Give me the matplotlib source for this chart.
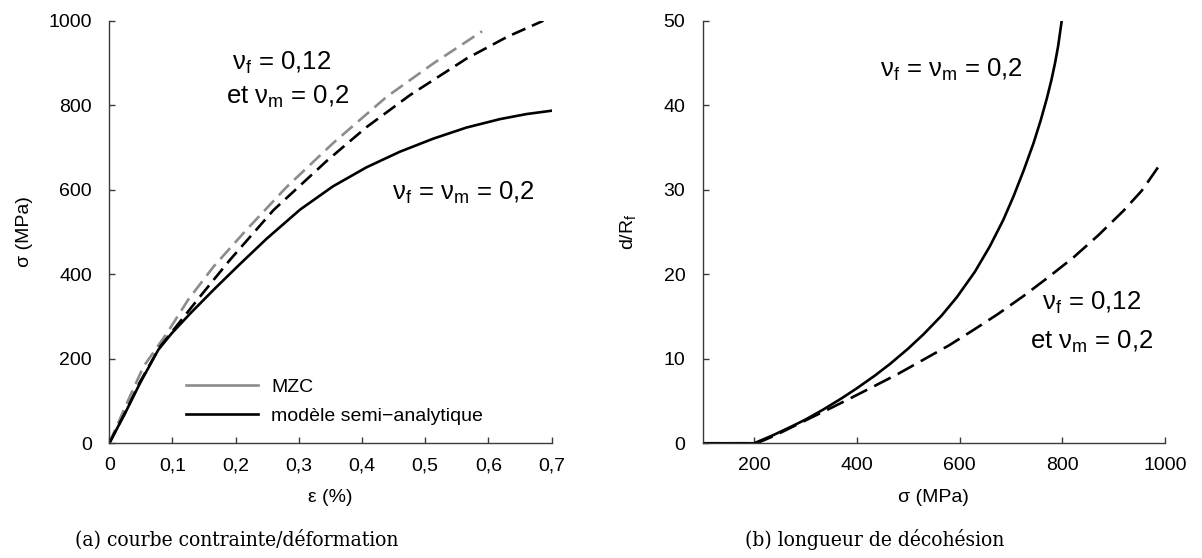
import matplotlib
matplotlib.use("Agg")
import matplotlib.pyplot as plt
from matplotlib.lines import Line2D

# ---- data ----
# (a) stress / strain
eps_solid = [0, 0.025, 0.0486, 0.0775, 0.0987, 0.130, 0.167, 0.204, 0.249, 0.302, 0.354, 0.407, 0.460, 0.513, 0.565, 0.618, 0.660, 0.700]
sig_solid = [0, 71, 142, 221, 260, 310, 366, 420, 484, 553, 608, 653, 690, 721, 747, 767, 779, 787]

eps_dash = [0, 0.025, 0.0486, 0.080, 0.110, 0.143, 0.191, 0.260, 0.344, 0.407, 0.476, 0.565, 0.630, 0.687]
sig_dash = [0, 72, 145, 228, 284, 346, 434, 552, 668, 748, 824, 910, 962, 1000]

eps_mzc = [0, 0.027, 0.054, 0.091, 0.125, 0.165, 0.217, 0.281, 0.354, 0.439, 0.513, 0.590]
sig_mzc = [0, 92, 181, 260, 340, 418, 505, 607, 710, 820, 899, 975]

# (b) debonding length
s_solid = [100, 200, 235, 270, 300, 335, 370, 400, 435, 465, 500, 530, 565, 595, 630,
           659, 685, 705, 725, 744, 758, 770, 779, 786, 792, 799]
d_solid = [0, 0, 0.9, 1.9, 2.8, 4.0, 5.3, 6.5, 8.0, 9.4, 11.2, 12.9, 15.1, 17.3, 20.3,
           23.3, 26.4, 29.2, 32.3, 35.5, 38.2, 40.8, 43.0, 45.0, 47.0, 50]

s_dash = [100, 205, 240, 270, 310, 354, 390, 432, 480, 530, 580, 627, 675, 724, 772,
          822, 870, 919, 955, 987]
d_dash = [0, 0, 0.9, 1.8, 3.0, 4.3, 5.4, 6.7, 8.2, 9.9, 11.6, 13.4, 15.3, 17.4, 19.6,
          22.0, 24.6, 27.5, 29.9, 32.7]

xticks_a = [0, 0.1, 0.2, 0.3, 0.4, 0.5, 0.6, 0.7]
xticklabels_a = ['0', '0,1', '0,2', '0,3', '0,4', '0,5', '0,6', '0,7']
yticks_a = [0, 200, 400, 600, 800, 1000]
xticks_b = [200, 400, 600, 800, 1000]
yticks_b = [0, 10, 20, 30, 40, 50]

plt.rcParams['font.family'] = ['Liberation Sans', 'DejaVu Sans']
plt.rcParams['mathtext.fontset'] = 'custom'
plt.rcParams['mathtext.rm'] = 'Liberation Sans'

fig = plt.figure(figsize=(12.02, 5.58), dpi=100)
ax1 = fig.add_axes([0.0909, 0.2056, 0.368, 0.7573])
ax2 = fig.add_axes([0.5846, 0.2056, 0.3846, 0.7573])

spine_c = '#3a3a3a'
lfs = 14
for ax in (ax1, ax2):
    for s in ('top', 'right'):
        ax.spines[s].set_visible(False)
    for s in ('left', 'bottom'):
        ax.spines[s].set_color(spine_c)
        ax.spines[s].set_linewidth(1.0)
    ax.tick_params(direction='in', length=4, width=1.0, color=spine_c,
                   labelsize=lfs, labelcolor='black')
    ax.tick_params(axis='x', pad=10)
    ax.tick_params(axis='y', pad=12.5)

lw = 1.9
ax1.plot(eps_mzc, sig_mzc, color='#8c8c8c', lw=lw, dashes=(5.5, 2.7))
ax1.plot(eps_dash, sig_dash, color='black', lw=lw, dashes=(5.5, 2.7))
ax1.plot(eps_solid, sig_solid, color='black', lw=lw)
ax1.set_xlim(0, 0.7)
ax1.set_ylim(0, 1000)
ax1.set_xticks(xticks_a)
ax1.set_xticklabels(xticklabels_a)
ax1.set_yticks(yticks_a)
ax1.set_xlabel('ε (%)', fontsize=lfs, labelpad=11)
ax1.set_ylabel('σ (MPa)', fontsize=lfs)
ax1.yaxis.set_label_coords(-0.172, 0.5)

tfs = 18.5
ax1.text(0.273, 900, 'ν$_\\mathregular{f}$ = 0,12', fontsize=tfs, ha='center', va='center')
ax1.text(0.283, 819, 'et ν$_\\mathregular{m}$ = 0,2', fontsize=tfs, ha='center', va='center')
ax1.text(0.561, 592, 'ν$_\\mathregular{f}$ = ν$_\\mathregular{m}$ = 0,2', fontsize=tfs, ha='center', va='center')

handles = [Line2D([], [], color='#8c8c8c', lw=lw), Line2D([], [], color='black', lw=lw)]
ax1.legend(handles, ['MZC', 'modèle semi\u2212analytique'], loc='lower left',
           bbox_to_anchor=(0.135, 0.002), frameon=False, fontsize=lfs,
           handlelength=3.7, handletextpad=0.65, labelspacing=0.6)

ax2.plot(s_dash, d_dash, color='black', lw=lw, dashes=(7, 3))
ax2.plot(s_solid, d_solid, color='black', lw=lw)
ax2.set_xlim(100, 1000)
ax2.set_ylim(0, 50)
ax2.set_xticks(xticks_b)
ax2.set_yticks(yticks_b)
ax2.set_xlabel('σ (MPa)', fontsize=lfs, labelpad=11)
ax2.set_ylabel('d/R$_\\mathregular{f}$', fontsize=lfs)
ax2.yaxis.set_label_coords(-0.138, 0.5)

ax2.text(585, 44.2, 'ν$_\\mathregular{f}$ = ν$_\\mathregular{m}$ = 0,2', fontsize=tfs, ha='center', va='center')
ax2.text(857, 16.6, 'ν$_\\mathregular{f}$ = 0,12', fontsize=tfs, ha='center', va='center')
ax2.text(857, 12.0, 'et ν$_\\mathregular{m}$ = 0,2', fontsize=tfs, ha='center', va='center')

cfs = 15
fig.text(237 / 1202, 1 - 540 / 558, '(a) courbe contrainte/déformation', fontsize=cfs,
         family='DejaVu Serif', stretch='condensed', ha='center', va='center')
fig.text(875 / 1202, 1 - 540 / 558, '(b) longueur de décohésion', fontsize=cfs,
         family='DejaVu Serif', stretch='condensed', ha='center', va='center')

fig.savefig('out.png', dpi=100)
